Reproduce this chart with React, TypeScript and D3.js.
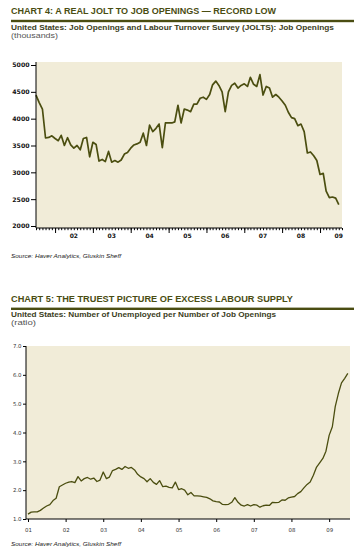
import React, { useEffect, useRef } from 'react';
import * as d3 from 'd3';

// chart 4 - JOLTS job openings, thousands, monthly from Jul 2001
const openingsStart = new Date(2001, 6, 1);
const jobOpenings: number[] = [
  4440, 4300, 4180, 3640, 3650, 3680,
  3630, 3590, 3690, 3500, 3645, 3510, 3450, 3500, 3420, 3630, 3650, 3290,
  3560, 3520, 3210, 3240, 3200, 3390, 3190, 3220, 3190, 3230, 3340, 3370,
  3450, 3510, 3530, 3560, 3730, 3500, 3880, 3760, 3820, 3900, 3460, 3920,
  3920, 3920, 3940, 4250, 3920, 4180, 4160, 4130, 4270, 4270, 4380, 4400,
  4360, 4450, 4630, 4700, 4620, 4500, 4130, 4500, 4620, 4660, 4570, 4620,
  4650, 4600, 4770, 4640, 4600, 4820, 4440, 4600, 4570, 4400, 4450, 4400,
  4330, 4250, 4120, 4020, 4000, 3870, 3900, 3760, 3360, 3380, 3310, 3220,
  2960, 2980, 2650, 2530, 2540, 2520, 2400
];
const openingsYTicks = [2000, 2500, 3000, 3500, 4000, 4500, 5000];
const openingsXLabels = ['02', '03', '04', '05', '06', '07', '08', '09'];

// chart 5 - unemployed per job opening, monthly from Jan 2001
const ratioStart = new Date(2001, 0, 1);
const unemployedPerOpening: number[] = [
  1.17, 1.24, 1.25, 1.25, 1.30, 1.38, 1.45, 1.50, 1.64, 1.72, 2.12, 2.18,
  2.24, 2.28, 2.30, 2.26, 2.47, 2.32, 2.40, 2.44, 2.38, 2.42, 2.30, 2.35,
  2.63, 2.40, 2.45, 2.68, 2.72, 2.78, 2.72, 2.82, 2.76, 2.79, 2.70, 2.55,
  2.46, 2.40, 2.29, 2.40, 2.27, 2.20, 2.33, 2.12, 2.14, 2.10, 2.08, 2.28,
  2.02, 2.05, 2.00, 1.84, 1.92, 1.80, 1.80, 1.79, 1.77, 1.75, 1.70, 1.63,
  1.60, 1.59, 1.51, 1.50, 1.51, 1.58, 1.74, 1.58, 1.48, 1.45, 1.50, 1.45,
  1.50, 1.48, 1.41, 1.46, 1.48, 1.47, 1.58, 1.57, 1.58, 1.66, 1.65, 1.73,
  1.76, 1.78, 1.88, 1.95, 2.08, 2.20, 2.28, 2.52, 2.80, 2.95, 3.10, 3.35,
  3.90, 4.20, 4.90, 5.36, 5.72, 5.88, 6.05
];
const ratioYTicks = [1, 2, 3, 4, 5, 6, 7];
const ratioXLabels = ['01', '02', '03', '04', '05', '06', '07', '08', '09'];

const OLIVE = '#4a4d12';
const LINE = '#4b4e10';
const PANEL = '#f1ecd8';
const HEAD_FONT = '"Liberation Sans", Arial, sans-serif';
const AXIS_FONT = '"DejaVu Sans", Verdana, sans-serif';

type Svg = d3.Selection<SVGSVGElement, unknown, null, undefined>;

// title block: heading, olive rule, subtitle, units
const drawHeader = (svg: Svg, y: number, title: string, titleW: number,
  sub: string, subW: number, units: string, unitsW: number) => {
  svg.append('text')
    .attr('x', 11).attr('y', y)
    .attr('textLength', titleW).attr('lengthAdjust', 'spacingAndGlyphs')
    .style('font-family', HEAD_FONT).style('font-size', '8.6px')
    .style('font-weight', 'bold').style('fill', OLIVE)
    .text(title);
  svg.append('rect')
    .attr('x', 11).attr('y', y + 5.8).attr('width', 343).attr('height', 2.4)
    .style('fill', OLIVE);
  svg.append('text')
    .attr('x', 11).attr('y', y + 15.5)
    .attr('textLength', subW).attr('lengthAdjust', 'spacingAndGlyphs')
    .style('font-family', HEAD_FONT).style('font-size', '7px')
    .style('font-weight', 'bold').style('fill', '#3b3d1c')
    .text(sub);
  svg.append('text')
    .attr('x', 11).attr('y', y + 23.5)
    .attr('textLength', unitsW).attr('lengthAdjust', 'spacingAndGlyphs')
    .style('font-family', HEAD_FONT).style('font-size', '6.8px')
    .style('fill', '#555')
    .text(units);
};

const drawSource = (svg: Svg, y: number) => {
  svg.append('text')
    .attr('x', 11).attr('y', y)
    .attr('textLength', 110).attr('lengthAdjust', 'spacingAndGlyphs')
    .style('font-family', HEAD_FONT).style('font-size', '5.2px')
    .style('font-style', 'italic').style('fill', '#222')
    .text('Source: Haver Analytics, Gluskin Sheff');
};

const drawOpenings = (svg: Svg) => {
  const left = 36, right = 342, top = 62, bottom = 228;
  const dates = jobOpenings.map((_, i) => d3.timeMonth.offset(openingsStart, i));

  const xScale = d3.scaleTime()
    .domain([openingsStart, new Date(2009, 7, 1)])
    .range([left, right]);
  const yScale = d3.scaleLinear().domain([2000, 5000]).range([226, 65]);

  svg.append('rect')
    .attr('x', left).attr('y', top)
    .attr('width', right - left).attr('height', bottom - top)
    .style('fill', PANEL);

  const line = d3.line<number>()
    .x((_, i) => xScale(dates[i]))
    .y(d => yScale(d));
  svg.append('path')
    .datum(jobOpenings)
    .attr('d', line)
    .style('fill', 'none').style('stroke', LINE)
    .style('stroke-width', 1.7).style('stroke-linejoin', 'round');

  // y axis
  const yAxis = d3.axisLeft(yScale).tickValues(openingsYTicks).tickSize(5).tickPadding(1.5)
    .tickFormat(d3.format('d'));
  const gy = svg.append('g').attr('transform', `translate(${left},0)`).call(yAxis);
  gy.select('.domain').attr('d', `M0,${top}V${bottom}`).style('stroke', '#000');
  gy.selectAll('line').style('stroke', '#000');
  gy.selectAll('text')
    .style('font-family', AXIS_FONT).style('font-size', '6.2px')
    .style('font-weight', 'bold').style('fill', '#111');

  // x axis: monthly minor ticks, yearly major ticks, labels at mid-year
  const months = d3.timeMonth.range(openingsStart, new Date(2009, 7, 2));
  const gx = svg.append('g').attr('transform', `translate(0,${bottom})`);
  gx.call(d3.axisBottom(xScale).tickValues(months).tickSize(2.2).tickFormat(() => ''));
  gx.select('.domain').remove();
  const gxMajor = svg.append('g').attr('transform', `translate(0,${bottom})`);
  gxMajor.call(d3.axisBottom(xScale)
    .tickValues(d3.timeYear.range(new Date(2002, 0, 1), new Date(2009, 1, 1)))
    .tickSize(5).tickFormat(() => ''));
  gxMajor.select('.domain').remove();
  svg.selectAll('g line').style('stroke', '#000');
  svg.append('line')
    .attr('x1', left).attr('x2', right).attr('y1', bottom).attr('y2', bottom)
    .style('stroke', '#000').style('stroke-width', 1);

  svg.append('g').selectAll('text')
    .data(openingsXLabels)
    .enter()
    .append('text')
    .attr('x', d => xScale(new Date(2000 + +d, 6, 1)))
    .attr('y', 237.5)
    .attr('text-anchor', 'middle')
    .style('font-family', AXIS_FONT).style('font-size', '6px')
    .style('font-weight', 'bold').style('fill', '#111')
    .text(d => d);
};

const drawRatio = (svg: Svg) => {
  const left = 26, right = 350, top = 346, bottom = 519;
  const dates = unemployedPerOpening.map((_, i) => d3.timeMonth.offset(ratioStart, i));

  const xScale = d3.scaleTime()
    .domain([ratioStart, new Date(2009, 6, 1)])
    .range([28, 347.8]);
  const yScale = d3.scaleLinear().domain([1, 7]).range([bottom, top]);

  svg.append('rect')
    .attr('x', left).attr('y', top)
    .attr('width', right - left).attr('height', bottom - top)
    .style('fill', PANEL);

  const line = d3.line<number>()
    .x((_, i) => xScale(dates[i]))
    .y(d => yScale(d));
  svg.append('path')
    .datum(unemployedPerOpening)
    .attr('d', line)
    .style('fill', 'none').style('stroke', LINE)
    .style('stroke-width', 1.3).style('stroke-linejoin', 'round');

  const yAxis = d3.axisLeft(yScale).tickValues(ratioYTicks).tickSize(3).tickPadding(1.5)
    .tickFormat(d3.format('.1f'));
  const gy = svg.append('g').attr('transform', `translate(${left},0)`).call(yAxis);
  gy.select('.domain').attr('d', `M0,${top}V${bottom}`).style('stroke', '#000');
  gy.selectAll('line').style('stroke', '#000');
  gy.selectAll('text')
    .style('font-family', AXIS_FONT).style('font-size', '5.4px')
    .style('fill', '#333');

  const years = ratioXLabels.map(d => new Date(2000 + +d, 0, 1));
  const xAxis = d3.axisBottom(xScale).tickValues(years).tickSize(3).tickPadding(6)
    .tickFormat((_, i) => ratioXLabels[i]);
  const gx = svg.append('g').attr('transform', `translate(0,${bottom})`).call(xAxis);
  gx.select('.domain').remove();
  gx.selectAll('line').style('stroke', '#000');
  gx.selectAll('text')
    .style('font-family', AXIS_FONT).style('font-size', '5.4px')
    .style('fill', '#333');
  svg.append('line')
    .attr('x1', left).attr('x2', right).attr('y1', bottom).attr('y2', bottom)
    .style('stroke', '#000').style('stroke-width', 1.2);
};

const App = () => {
  const svgRef = useRef<SVGSVGElement>(null);

  useEffect(() => {
    const svg = d3.select(svgRef.current!) as Svg;
    svg.selectAll('*').remove();

    drawHeader(svg, 14, 'CHART 4: A REAL JOLT TO JOB OPENINGS \u2014 RECORD LOW', 265,
      'United States: Job Openings and Labour Turnover Survey (JOLTS): Job Openings', 323,
      '(thousands)', 47);
    drawOpenings(svg);
    drawSource(svg, 257.5);

    drawHeader(svg, 301.8, 'CHART 5: THE TRUEST PICTURE OF EXCESS LABOUR SUPPLY', 282,
      'United States: Number of Unemployed per Number of Job Openings', 265,
      '(ratio)', 25);
    drawRatio(svg);
    drawSource(svg, 546);
  }, []);

  return (
    <svg ref={svgRef} width={358} height={550}
      style={{ position: 'absolute', left: 0, top: 0, background: '#fff' }} />
  );
};

export default App;
